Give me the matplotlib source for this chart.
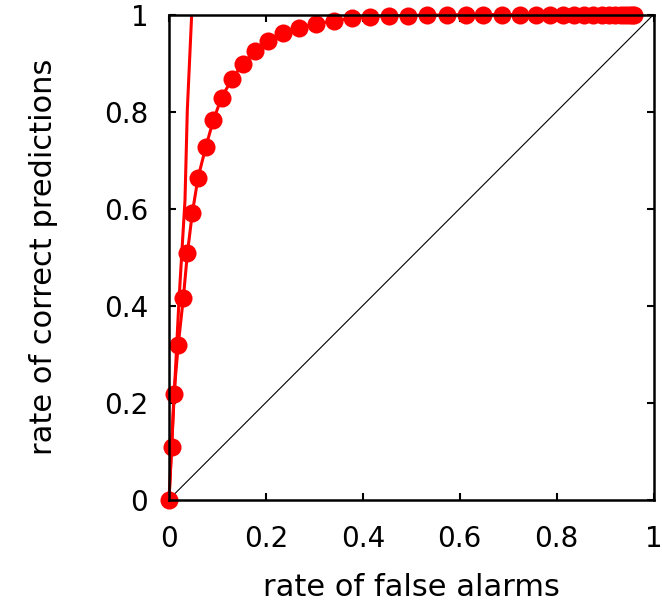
import matplotlib
matplotlib.use("Agg")
import matplotlib.pyplot as plt

# ROC curve points (rate of false alarms, rate of correct predictions)
far = [0.0, 0.0055, 0.0103, 0.019, 0.0295, 0.038, 0.048, 0.060, 0.0757, 0.0914,
       0.1086, 0.1305, 0.153, 0.177, 0.205, 0.236, 0.269, 0.303, 0.340, 0.377,
       0.414, 0.454, 0.493, 0.533, 0.573, 0.612, 0.649, 0.688, 0.724, 0.758,
       0.787, 0.813, 0.836, 0.857, 0.876, 0.893, 0.908, 0.921, 0.932, 0.942,
       0.950, 0.956, 0.960]
hit = [0.0, 0.109, 0.2175, 0.3185, 0.415, 0.508, 0.590, 0.664, 0.726, 0.782,
       0.829, 0.868, 0.899, 0.925, 0.946, 0.961, 0.973, 0.981, 0.987, 0.992,
       0.996, 0.997, 0.998, 0.999, 0.999, 1.0, 1.0, 1.0, 1.0, 1.0,
       1.0, 1.0, 1.0, 1.0, 1.0, 1.0, 1.0, 1.0, 1.0, 1.0,
       1.0, 1.0, 1.0]

# steep reference line
steep_x = [0.0, 0.010, 0.0206, 0.033, 0.0378, 0.0468]
steep_y = [0.0, 0.20, 0.411, 0.617, 0.803, 1.0]

ticks = [0, 0.2, 0.4, 0.6, 0.8, 1]
tick_labels = ["0", "0.2", "0.4", "0.6", "0.8", "1"]

plt.rcParams['font.family'] = ['DejaVu Sans']

fig = plt.figure(figsize=(6.63, 6.10), dpi=100)
ax = fig.add_axes([0.2549, 0.1811, 0.7308, 0.795])

ax.plot([0, 1], [0, 1], color='black', lw=0.8, zorder=2)
ax.plot(steep_x, steep_y, color='red', lw=2.2, zorder=3)
ax.plot(far, hit, color='red', lw=2.2, marker='o', markersize=13,
        markeredgewidth=0, clip_on=False, zorder=4)

ax.set_xlim(0, 1)
ax.set_ylim(0, 1)
ax.set_xticks(ticks)
ax.set_xticklabels(tick_labels)
ax.set_yticks(ticks)
ax.set_yticklabels(tick_labels)
ax.tick_params(direction='in', length=5, width=1.5, top=True, right=True,
               labelsize=20)
ax.tick_params(axis='x', pad=18)
ax.tick_params(axis='y', pad=15)
for sp in ax.spines.values():
    sp.set_linewidth(1.8)
    sp.set_zorder(5)

ax.set_xlabel('rate of false alarms', fontsize=22, labelpad=15)
ax.set_ylabel('rate of correct predictions', fontsize=22, labelpad=33)

fig.savefig('out.png', dpi=100)
